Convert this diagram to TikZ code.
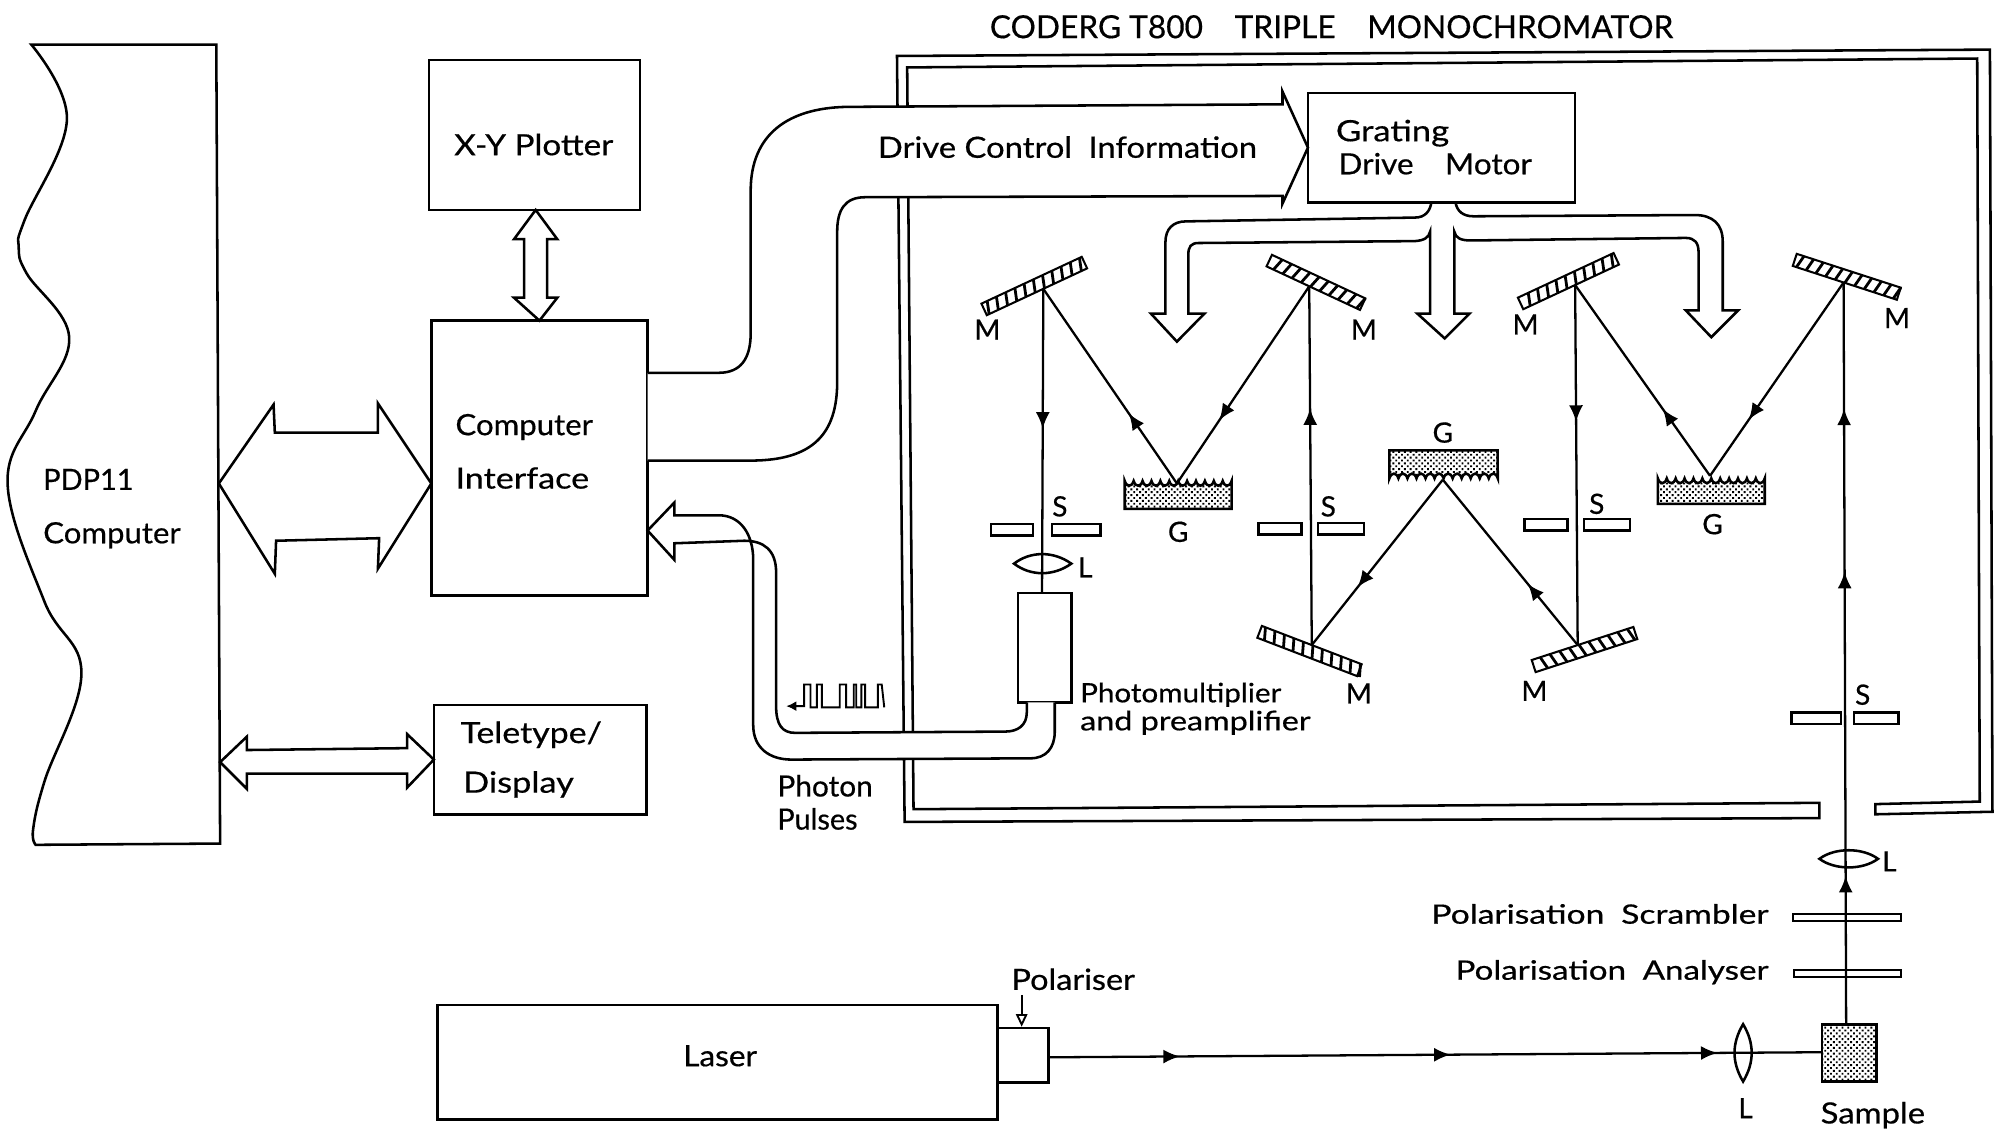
\documentclass[tikz,border=0pt]{standalone}
\usepackage{fontspec}
\usepackage{graphicx}
\setmainfont{Lato}[FakeBold=0.5]
\usetikzlibrary{arrows.meta,decorations.markings,patterns.meta}
\tikzset{
  ink/.style={draw=black,line width=2pt,line join=miter},
  box/.style={ink,anchor=north west,inner sep=0pt,outer sep=0pt},
  beam/.style={draw=black,line width=1.8pt},
  tube/.style={ink,fill=white},
  dotted fill/.style={ink,pattern={Dots[angle=45,distance=3.2pt,radius=1.05pt]}},
  txt/.style={anchor=base west,inner sep=0pt,outer sep=0pt},
  tag/.style={anchor=center,inner sep=0pt,font=\fontsize{22}{22}\selectfont},
  tipat/.style={postaction={decorate},decoration={markings,mark=at position #1 with {\arrow{Latex[length=13pt,width=11pt]}}}},
  tipsat/.style n args={3}{postaction={decorate},decoration={markings,
     mark=at position #1 with {\arrow{Latex[length=13pt,width=11pt]}},
     mark=at position #2 with {\arrow{Latex[length=13pt,width=11pt]}},
     mark=at position #3 with {\arrow{Latex[length=13pt,width=11pt]}}}}
}
\newcommand\lbl[6]{\node[txt] (#1) at (#2,#3) {\resizebox{#4pt}{\height}{\fontsize{#5}{#5}\selectfont #6}};}
\newcommand\mirrorat[7]{% name x y angle a b sign
  \coordinate (#1) at (#2,#3);
  \begin{scope}[shift={(#2,#3)},rotate=#4]
    \fill[white] (-#5,0) rectangle (#6,#7*10);
    \foreach \hx in {-#5,...,#6}{
      \pgfmathparse{int(mod(\hx+200,8))}
      \ifnum\pgfmathresult=0
        \ifnum\hx<#6 \draw[black,line width=2.2pt] (\hx+1,0) -- (\hx+4,#7*10); \fi
      \fi}
    \draw[ink,line width=1.6pt] (-#5,0) rectangle (#6,#7*10);
  \end{scope}}
\begin{document}
\begin{tikzpicture}[x=1pt,y=-1pt]
\useasboundingbox (0,0) rectangle (1568,893.7);
\fill[white] (0,0) rectangle (1568,893.7);

\lbl{title}{778}{30}{537}{25}{CODERG T800\quad TRIPLE\quad MONOCHROMATOR}

% monochromator housing
\coordinate (frA) at (705,44);
\draw[ink] (frA) -- (1564,39) -- (1566,638) -- (1474,640) -- (1474,632) -- (1556,630) -- (1554,46) -- (713,53) -- (718,636) -- (1430,631) -- (1430,643) -- (711,646) -- cycle;

% computer
\draw[ink] plot[smooth,tension=0.65] coordinates {(24.6,35) (52.6,94) (19.3,173) (14.7,194) (21,215) (54.4,265) (28,323) (6,381) (35,473) (64,529) (35,614) (26,652) (28,664)} -- (173,663) -- (170,35) -- cycle;
\lbl{pdpa}{34}{385}{71}{23}{PDP11}
\lbl{pdpb}{34}{427}{108}{23}{Computer}

% boxes
\node[box,minimum width=166pt,minimum height=118pt] (xy) at (337,47) {};
\lbl{xyt}{357}{122}{125}{23}{X-Y Plotter}
\node[box,minimum width=170pt,minimum height=216pt] (ci) at (339,252) {};
\lbl{cia}{358}{342}{108}{23}{Computer}
\lbl{cib}{358}{384}{105}{23}{Interface}
\node[box,minimum width=167pt,minimum height=86pt] (tt) at (341,554) {};
\lbl{tta}{362}{584}{111}{23}{Teletype/}
\lbl{ttb}{364}{623}{87}{23}{Display}
\node[box,minimum width=210pt,minimum height=86pt] (gm) at (1028,73) {};
\lbl{gma}{1050}{111}{89}{23}{Grating}
\lbl{gmb}{1052}{137}{152}{23}{Drive\quad Motor}
\node[box,minimum width=440pt,minimum height=90pt] (laser) at (344,790) {};
\lbl{lat}{537}{838}{58}{23}{Laser}
\node[box,minimum width=40pt,minimum height=43pt] (pol) at (784,808) {};
\lbl{polt}{795}{778}{97}{23}{Polariser}
\coordinate (polArrow) at (803,782);
\coordinate (polIn) at (803,807);
\draw[draw=black,line width=1.5pt,-{Triangle[open,length=10pt,width=9pt]}] (polArrow) -- (polIn);

% block arrows
\coordinate (pdpE) at (172,380);
\coordinate (ciW) at (339,380);
\draw[ink] (pdpE) -- (215,318) -- (216,340) -- (297,340) -- (297,317) -- (ciW) -- (297,447) -- (298,423) -- (217,425) -- (216,451) -- cycle;
\draw[ink] (xy.south) ++(1,0) -- (438,188) -- (430,188) -- (430,234) -- (438,234) -- (ci.north) -- (404,234) -- (412,234) -- (412,188) -- (404,188) -- cycle;
\coordinate (pdpT) at (173,599);
\draw[ink] (pdpT) -- (194,579) -- (194,589.5) -- (320,588) -- (320,577) -- (tt.west) -- (320,619) -- (320,608) -- (194,608) -- (194,620) -- cycle;

% drive control tube
\coordinate (ciA) at (509,293);
\coordinate (ciB) at (509,362);
\draw[tube] (ciA) -- (565,293) .. controls (582,293) and (590,282) .. (590,262) -- (590,150) .. controls (590,105) and (620,85) .. (665,84) -- (1008,82) -- (1008,72) -- (gm.west) -- (1008,160) -- (1008,154) -- (680,155) .. controls (664,155) and (658,165) .. (658,182) -- (658,300) .. controls (658,340) and (640,362) .. (590,362) -- (ciB);
\lbl{dc}{690}{124}{298}{23}{Drive Control\enspace Information}

% grating drive arrows
\coordinate (gmL) at (1125,159);
\coordinate (gmR) at (1144,159);
\draw[ink] (gmL) .. controls (1124,166) and (1120,171) .. (1112,171) -- (932,174) .. controls (922,174) and (916,180) .. (916,190) -- (916,246.5) -- (904.6,246.5) -- (925,268.5) -- (946.6,246.5) -- (934,246.5) -- (934,200) .. controls (934,194) and (936,191) .. (942,191) -- (1112,189.5) .. controls (1119,189) and (1123,187) .. (1124,182) -- (1124,246.5) -- (1114,246.5) -- (1135.5,266) -- (1155,246.5) -- (1143,246.5) -- (1143,182) .. controls (1144,187) and (1148,189) .. (1156,189) -- (1325,187) .. controls (1332,187) and (1335,191) .. (1335,198) -- (1335,244) -- (1325,244) -- (1345,265) -- (1366,244) -- (1354,244) -- (1354,190) .. controls (1354,176) and (1346,169) .. (1332,169) -- (1158,170) .. controls (1150,170) and (1145,166) .. (gmR);

% mirrors
\mirrorat{mA}{820}{227}{25}{49}{38}{-1}
\mirrorat{mB}{1029}{225}{-25}{37}{44}{-1}
\mirrorat{mC}{1238}{224}{25}{45}{38}{-1}
\mirrorat{mD}{1449}{222}{-18}{42}{44}{-1}
\mirrorat{mE}{1031}{507}{-21}{42}{42}{1}
\mirrorat{mF}{1240}{507}{18}{38}{46}{1}
\node[tag] (tma) at (776,259) {M};
\node[tag] (tmb) at (1072,259) {M};
\node[tag] (tmc) at (1199,255) {M};
\node[tag] (tmd) at (1491,250) {M};
\node[tag] (tme) at (1068,545) {M};
\node[tag] (tmf) at (1206,543) {M};

% gratings
\coordinate (gA) at (925,380);
\coordinate (gB) at (1134,377);
\coordinate (gC) at (1344,374);
\draw[dotted fill] (884,400) -- (884,378) \foreach \gi in {1,...,12}{ .. controls +(1.5,5) and +(-1.5,5) .. ++(7,0)} -- (968,400) -- cycle;
\draw[dotted fill] (1092,354) -- (1092,376) \foreach \gi in {1,...,12}{ .. controls +(1.5,-5) and +(-1.5,-5) .. ++(7.1,0)} -- (1177,354) -- cycle;
\draw[dotted fill] (1303,396) -- (1303,376) \foreach \gi in {1,...,12}{ .. controls +(1.5,5) and +(-1.5,5) .. ++(7,0)} -- (1387,396) -- cycle;
\node[tag] (tga) at (926,418) {G};
\node[tag] (tgb) at (1134,340) {G};
\node[tag] (tgc) at (1346,412) {G};

% slits
\foreach \sx/\sy/\sa/\sb/\sc/\sd in {779/412/812/827/865/421,989/411/1023/1036/1072/420,1198/408/1232/1245/1281/417,1408/560/1447/1457/1492/569}{
  \draw[ink] (\sx,\sy) rectangle (\sa,\sd);
  \draw[ink] (\sb,\sy) rectangle (\sc,\sd);
}
\node[tag] (tsa) at (833,398) {S};
\node[tag] (tsb) at (1044,398) {S};
\node[tag] (tsc) at (1255,396) {S};
\node[tag] (tsd) at (1464,546) {S};

% photomultiplier
\node[box,minimum width=42pt,minimum height=86pt] (pmt) at (800,466) {};
\lbl{pma}{849}{552}{158}{21}{Photomultiplier}
\lbl{pmb}{849}{574}{181}{21}{and preamplifier}

% plates
\draw[ink,line width=1.6pt] (1409,718) rectangle (1494,724);
\draw[ink,line width=1.6pt] (1410,762) rectangle (1494,768);
\lbl{psc}{1125}{726}{265}{21}{Polarisation\enspace Scrambler}
\lbl{pan}{1144}{770}{246}{21}{Polarisation\enspace Analyser}

% sample
\node[dotted fill,anchor=north west,inner sep=0pt,outer sep=0pt,minimum width=43pt,minimum height=45pt] (samp) at (1432,805) {};
\lbl{samt}{1431}{883}{82}{23}{Sample}

% beams
\coordinate (pmtTop) at (819,466);
\coordinate (sampTop) at (1451,805);
\coordinate (sampW) at (1432,827);
\coordinate (polE) at (824,831);
\draw[beam,tipat=0.46] (mA) -- (pmtTop);
\draw[beam,tipat=0.36] (gA) -- (mA);
\draw[beam,tipat=0.68] (mB) -- (gA);
\draw[beam,tipat=0.66] (mE) -- (mB);
\draw[beam,tipat=0.65] (gB) -- (mE);
\draw[beam,tipat=0.37] (mF) -- (gB);
\draw[beam,tipat=0.38] (mC) -- (mF);
\draw[beam,tipat=0.35] (gC) -- (mC);
\draw[beam,tipat=0.71] (mD) -- (gC);
\draw[beam,tipsat={0.2}{0.61}{0.83}] (sampTop) -- (mD);
\draw[beam,tipsat={0.17}{0.52}{0.865}] (polE) -- (sampW);

% lenses
\coordinate (lensA) at (819,443);
\coordinate (lensB) at (1453,675);
\coordinate (lensC) at (1370,827);
\draw[ink] (797,443) .. controls (810,433) and (828,433) .. (842,443) .. controls (828,453) and (810,453) .. cycle;
\draw[ink] (1430,675) .. controls (1442,666) and (1464,666) .. (1476,675) .. controls (1464,684) and (1442,684) .. cycle;
\draw[ink] (1370,805) .. controls (1361,820) and (1361,835) .. (1370,850) .. controls (1379,835) and (1379,820) .. cycle;
\node[tag] (tla) at (853,446) {L};
\node[tag] (tlb) at (1485,677) {L};
\node[tag] (tlc) at (1372,871) {L};

% photon pulse tube
\coordinate (pmtA) at (807,552);
\coordinate (pmtB) at (829,552);
\coordinate (ciC) at (509,417);
\draw[tube] (pmtA) -- (807,560) .. controls (807,570) and (800,575) .. (790,575) -- (625,576) .. controls (615,576) and (610,570) .. (610,555) -- (610,450) .. controls (610,432) and (600,425) .. (585,425) -- (530,427) -- (530,440) -- (ciC) -- (530,395) -- (530,405) -- (565,405) .. controls (582,405) and (592,420) .. (592,440) -- (592,570) .. controls (592,588) and (605,597) .. (622,597) -- (810,596) .. controls (822,596) and (829,588) .. (829,575) -- (pmtB);
\lbl{pha}{611}{626}{75}{23}{Photon}
\lbl{phb}{611}{652}{63}{23}{Pulses}

% pulse train
\coordinate (pulseEnd) at (695,556);
\coordinate (pulseTip) at (618,555);
\draw[draw=black,line width=1.5pt,-{Latex[length=8pt,width=8pt]}] (pulseEnd) -- (693,538) -- (690,538) -- (690,556) -- (680,556) -- (680,538) -- (677,538) -- (677,556) -- (673,556) -- (673,538) -- (671,538) -- (671,556) -- (665,556) -- (665,538) -- (660,538) -- (660,556) -- (646,556) -- (646,538) -- (642,538) -- (642,556) -- (637,556) -- (637,538) -- (632,538) -- (632,555) -- (pulseTip);

\end{tikzpicture}
\end{document}
